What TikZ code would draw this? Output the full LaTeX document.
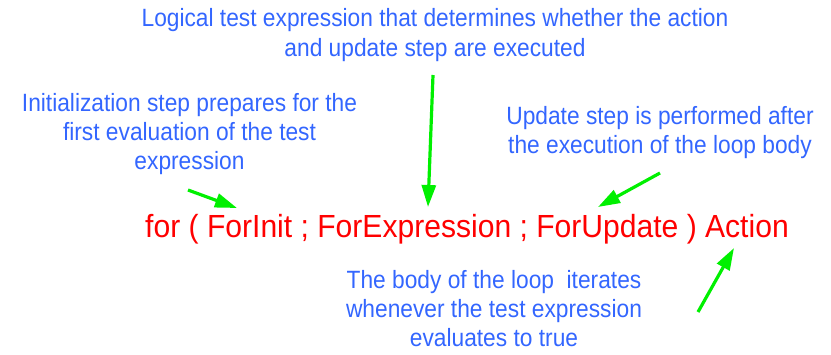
\documentclass[tikz,border=0pt]{standalone}
\usepackage{fontspec}
\setmainfont{Liberation Sans}
\newfontfamily\notefont[FakeStretch=0.91]{Liberation Sans}
\newfontfamily\codefont[FakeStretch=0.94]{Liberation Sans}
\usetikzlibrary{arrows.meta}
\definecolor{noteblue}{RGB}{51,102,255}
\definecolor{codered}{RGB}{255,0,0}
\definecolor{pointgreen}{RGB}{0,240,0}
\tikzset{
  note/.style={text=noteblue, align=center, inner sep=0pt, anchor=north,
    font=\notefont\fontsize{25}{29}\selectfont},
  code/.style={text=codered, inner sep=0pt, anchor=base,
    font=\codefont\fontsize{32}{38}\selectfont},
  pointer/.style={draw=pointgreen, line width=3.2pt,
    -{Triangle[length=22pt,width=14pt]}}
}
\begin{document}
\begin{tikzpicture}[x=1pt,y=-1pt]
  \useasboundingbox (0,0) rectangle (831,354);

  % the for statement
  \node[code] (stmt) at (467,237) {for ( ForInit ; ForExpression ; ForUpdate ) Action};

  % explanatory notes
  \node[note, font=\notefont\fontsize{25}{30}\selectfont] (test) at (435,8)
    {Logical test expression that determines whether the action\\and update step are executed};
  \node[note] (init) at (189.5,93)
    {Initialization step prepares for the\\first evaluation of the test\\expression};
  \node[note] (upd) at (660,106)
    {Update step is performed after\\the execution of the loop body};
  \node[note] (body) at (494,270)
    {The body of the loop\ \ iterates\\whenever the test expression\\evaluates to true};

  % arrow ends
  \coordinate (initS) at (188,190);
  \coordinate (initE) at (237,208);
  \coordinate (testS) at (433,75);
  \coordinate (testE) at (428,207);
  \coordinate (updS) at (660,173);
  \coordinate (updE) at (598,207);
  \coordinate (actS) at (698,312);
  \coordinate (actE) at (734,248);

  \draw[pointer] (initS) -- (initE);
  \draw[pointer] (testS) -- (testE);
  \draw[pointer] (updS) -- (updE);
  \draw[pointer] (actS) -- (actE);
\end{tikzpicture}
\end{document}
